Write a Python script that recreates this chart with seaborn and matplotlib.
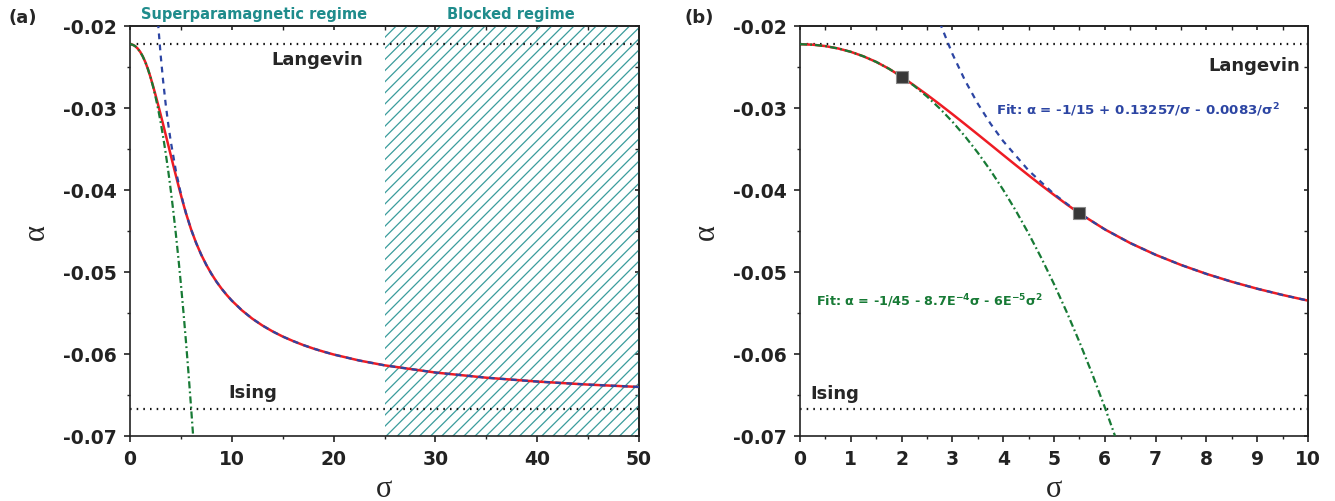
import numpy as np
import pandas as pd
import matplotlib
matplotlib.use("Agg")
import matplotlib.pyplot as plt
from matplotlib.ticker import MultipleLocator
import seaborn as sns

# ---------------- data ----------------
sigma_green = [0, 0.25, 0.5, 0.75, 1, 1.25, 1.5, 1.75, 2, 2.25, 2.5, 2.75, 3, 3.25,
               3.5, 3.75, 4, 4.25, 4.5, 4.75, 5, 5.25, 5.5, 5.75, 6, 6.2]
alpha_green = [-0.02222, -0.02228, -0.02245, -0.02274, -0.02315, -0.02370, -0.02438,
               -0.02521, -0.02618, -0.02731, -0.02860, -0.03005, -0.03167, -0.03347,
               -0.03545, -0.03762, -0.03998, -0.04254, -0.04531, -0.04828, -0.05147,
               -0.05488, -0.05852, -0.06239, -0.06650, -0.06997]

sigma_blue = [2.75, 3, 3.25, 3.5, 3.75, 4, 4.5, 5, 5.5, 6, 6.5, 7, 7.5, 8, 8.5, 9,
              9.5, 10, 11, 12, 13, 14, 15, 16, 17, 18, 19, 20, 22.5, 25, 30, 35, 40,
              45, 50]
alpha_blue = [-0.01956, -0.02340, -0.02666, -0.02947, -0.03191, -0.03404, -0.03762,
              -0.04049, -0.04284, -0.04480, -0.04647, -0.04790, -0.04914, -0.05023,
              -0.05119, -0.05204, -0.05280, -0.05349, -0.05468, -0.05568, -0.05652,
              -0.05724, -0.05787, -0.05841, -0.05890, -0.05933, -0.05971, -0.06006,
              -0.06079, -0.06138, -0.06226, -0.06289, -0.06336, -0.06373, -0.06402]

sigma_red = [0, 0.25, 0.5, 0.75, 1, 1.25, 1.5, 1.75, 2, 2.25, 2.5, 2.75, 3, 3.25,
             3.5, 3.75, 4, 4.25, 4.5, 4.75, 5, 5.25, 5.5, 6, 6.5, 7, 7.5, 8, 8.5, 9,
             9.5, 10, 11, 12, 13, 14, 15, 16, 17, 18, 19, 20, 22.5, 25, 30, 35, 40,
             45, 50]
alpha_red = [-0.02222, -0.02228, -0.02245, -0.02274, -0.02315, -0.02370, -0.02438,
             -0.02521, -0.02618, -0.02726, -0.02838, -0.02955, -0.03075, -0.03198,
             -0.03322, -0.03447, -0.03573, -0.03698, -0.03821, -0.03942, -0.04060,
             -0.04175, -0.04284, -0.04480, -0.04647, -0.04790, -0.04914, -0.05023,
             -0.05119, -0.05204, -0.05280, -0.05349, -0.05468, -0.05568, -0.05652,
             -0.05724, -0.05787, -0.05841, -0.05890, -0.05933, -0.05971, -0.06006,
             -0.06079, -0.06138, -0.06226, -0.06289, -0.06336, -0.06373, -0.06402]

marker_sigma = [2, 5.5]
marker_alpha = [-0.0262, -0.0428]

langevin_level = -0.02222
ising_level = -0.06667
blocked_range = [25, 50]

panel_labels = ["(a)", "(b)"]
xlims = [(0, 50), (0, 10)]
xmajor = [10, 1]
xminor = [5, 0.5]
ylim = (-0.07, -0.02)

# ---------------- style ----------------
sns.set_theme(style="ticks")
plt.rcParams.update({
    "font.family": ["DejaVu Sans"],
    "font.weight": "bold",
    "axes.linewidth": 1.2,
    "xtick.major.width": 1.2, "ytick.major.width": 1.2,
    "xtick.minor.width": 1.0, "ytick.minor.width": 1.0,
    "xtick.major.size": 4.5, "ytick.major.size": 4.5,
    "xtick.minor.size": 2.5, "ytick.minor.size": 2.5,
    "xtick.direction": "out", "ytick.direction": "out",
    "xtick.color": "#222222", "ytick.color": "#222222",
    "axes.edgecolor": "#222222",
    "hatch.linewidth": 0.9,
    "mathtext.fontset": "dejavusans",
    "mathtext.default": "bf",
})

RED = "#ee1c24"
BLUE = "#2c45a3"
GREEN = "#177a35"
TEAL = "#1f8c8c"
HATCH = "#3a9c9c"

fig = plt.figure(figsize=(13.35, 5.02), dpi=100)
axA = fig.add_axes([130 / 1335, 65 / 502, 509 / 1335, 410 / 502])
axB = fig.add_axes([800 / 1335, 65 / 502, 508 / 1335, 410 / 502])

df_red = pd.DataFrame({"sigma": sigma_red, "alpha": alpha_red})
df_blue = pd.DataFrame({"sigma": sigma_blue, "alpha": alpha_blue})
df_green = pd.DataFrame({"sigma": sigma_green, "alpha": alpha_green})
df_mark = pd.DataFrame({"sigma": marker_sigma, "alpha": marker_alpha})

for i, ax in enumerate([axA, axB]):
    if i == 0:
        ax.axvspan(blocked_range[0], blocked_range[1], facecolor="none",
                   edgecolor=HATCH, hatch="///", linewidth=0, zorder=0.5)
    ax.axhline(langevin_level, color="#111111", lw=1.6, linestyle=(0, (0.7, 2.3)), zorder=1)
    ax.axhline(ising_level, color="#111111", lw=1.6, linestyle=(0, (0.7, 2.3)), zorder=1)
    sns.lineplot(data=df_red, x="sigma", y="alpha", ax=ax, color=RED, lw=1.8,
                 sort=False, zorder=2)
    sns.lineplot(data=df_blue, x="sigma", y="alpha", ax=ax, color=BLUE, lw=1.6,
                 linestyle=(0, (2.6, 2.4)), sort=False, zorder=3)
    sns.lineplot(data=df_green, x="sigma", y="alpha", ax=ax, color=GREEN, lw=1.6,
                 linestyle=(0, (3.2, 1.4, 0.8, 1.4)), sort=False, zorder=3)
    if i == 1:
        sns.scatterplot(data=df_mark, x="sigma", y="alpha", ax=ax, marker="s", s=75,
                        color="#383838", edgecolor="#8a8a8a", linewidth=0.8, zorder=5)

    ax.set_xlim(*xlims[i])
    ax.set_ylim(*ylim)
    ax.xaxis.set_major_locator(MultipleLocator(xmajor[i]))
    ax.xaxis.set_minor_locator(MultipleLocator(xminor[i]))
    ax.yaxis.set_major_locator(MultipleLocator(0.01))
    ax.yaxis.set_minor_locator(MultipleLocator(0.005))
    ax.tick_params(axis="both", which="major", labelsize=13.5, pad=5)
    for lab in ax.get_xticklabels() + ax.get_yticklabels():
        lab.set_fontweight("bold")
    ax.yaxis.set_major_formatter(plt.FuncFormatter(lambda v, p: f"{v:.2f}".replace("\u2212", "-")))

    # mirrored inward ticks on top/right
    secx = ax.secondary_xaxis("top")
    secx.xaxis.set_major_locator(MultipleLocator(xmajor[i]))
    secx.xaxis.set_minor_locator(MultipleLocator(xminor[i]))
    secx.tick_params(which="both", direction="in", labeltop=False, length=3)
    secy = ax.secondary_yaxis("right")
    secy.yaxis.set_major_locator(MultipleLocator(0.01))
    secy.yaxis.set_minor_locator(MultipleLocator(0.005))
    secy.tick_params(which="both", direction="in", labelright=False, length=3)

    ax.set_xlabel("σ", fontsize=22, fontweight="normal", family="Liberation Serif")
    ax.set_ylabel("α", fontsize=22, fontweight="normal", family="Liberation Serif")
    ax.xaxis.set_label_coords(0.5, -0.092)
    ax.yaxis.set_label_coords(-0.155, 0.5)

# panel letters
fig.text(8 / 1335, 1 - 18 / 502, panel_labels[0], fontsize=13, fontweight="bold", va="center")
fig.text(685 / 1335, 1 - 18 / 502, panel_labels[1], fontsize=13, fontweight="bold", va="center")

# regime titles
fig.text(254 / 1335, 1 - 15 / 502, "Superparamagnetic regime", color=TEAL, fontsize=10.5,
         fontweight="bold", ha="center", va="center")
fig.text(511 / 1335, 1 - 15 / 502, "Blocked regime", color=TEAL, fontsize=10.5,
         fontweight="bold", ha="center", va="center")

# panel (a) labels
axA.text(18.4, -0.0240, "Langevin", fontsize=13, fontweight="bold", ha="center", va="center")
axA.text(12.1, -0.0646, "Ising", fontsize=13, fontweight="bold", ha="center", va="center")

# panel (b) labels
axB.text(9.84, -0.0247, "Langevin", fontsize=13, fontweight="bold", ha="right", va="center")
axB.text(0.2, -0.0648, "Ising", fontsize=13, fontweight="bold", ha="left", va="center")
axB.text(3.86, -0.0301, r"Fit: α = -1/15 + 0.13257/σ - 0.0083/σ$^2$", color=BLUE,
         fontsize=9.6, fontweight="bold", ha="left", va="center")
axB.text(0.31, -0.0534, r"Fit: α = -1/45 - 8.7E$^{-4}$σ - 6E$^{-5}$σ$^2$", color=GREEN,
         fontsize=9.2, fontweight="bold", ha="left", va="center")

fig.savefig("out.png", dpi=100)
